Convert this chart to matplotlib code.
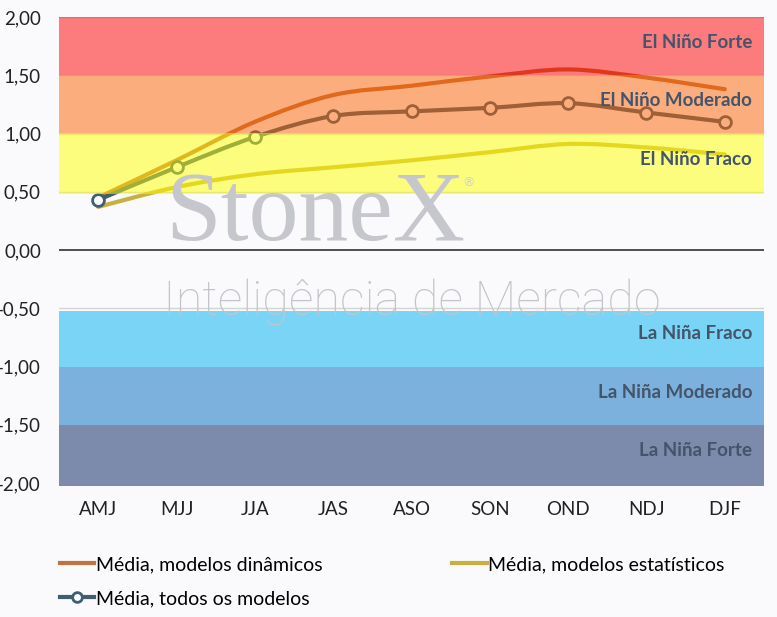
import matplotlib
matplotlib.use("Agg")
import matplotlib.pyplot as plt
from matplotlib.path import Path
from matplotlib.patches import PathPatch
from matplotlib.lines import Line2D
import numpy as np

categories = ["AMJ", "MJJ", "JJA", "JAS", "ASO", "SON", "OND", "NDJ", "DJF"]
dinamicos = [0.45, 0.77, 1.10, 1.33, 1.41, 1.49, 1.55, 1.48, 1.38]
estatisticos = [0.37, 0.54, 0.65, 0.71, 0.77, 0.84, 0.91, 0.88, 0.82]
todos = [0.43, 0.71, 0.97, 1.15, 1.19, 1.22, 1.26, 1.18, 1.10]
yticks = [2.0, 1.5, 1.0, 0.5, 0.0, -0.5, -1.0, -1.5, -2.0]
ytick_labels = ["2,00", "1,50", "1,00", "0,50", "0,00", "-0,50", "-1,00", "-1,50", "-2,00"]
bands = [(1.5, 2.0, "El Niño Forte"), (1.0, 1.5, "El Niño Moderado"), (0.48, 1.0, "El Niño Fraco"),
         (-1.0, -0.52, "La Niña Fraco"), (-1.5, -1.0, "La Niña Moderado"), (-2.03, -1.5, "La Niña Forte")]
band_colors = [(1.0, 0.0, 0.0, 0.5), (1.0, 0.384, 0.0, 0.5), (1.0, 1.0, 0.0, 0.5),
               "#7AD4F5", "#7BB1DC", "#7C8AAC"]

plt.rcParams['font.family'] = ['Lato', 'DejaVu Sans']
BG = "#FAFAFC"

fig = plt.figure(figsize=(7.77, 6.17), dpi=100, facecolor=BG)
ax = fig.add_axes([59/777, 1-483/617, 705/777, 466/617])
ax.set_facecolor(BG)
ax.set_xlim(-0.5, 8.5)
ax.set_ylim(-2.0, 2.0)
for s in ax.spines.values():
    s.set_visible(False)

# gridlines
for yv in yticks:
    if yv == 0:
        ax.axhline(0, color="#404040", lw=1.3, zorder=2)
    else:
        ax.axhline(yv, color="#D4D4D4", lw=1.0, zorder=1)

# watermark
fig.text(165/777, 1-240/617, "StoneX", family="Liberation Serif", fontsize=72,
         color="#C6C7CC", va="baseline", ha="left", zorder=0)
fig.text(462/777, 1-186/617, "®", family="DejaVu Sans", fontsize=9,
         color="#D0D1D5", va="baseline", ha="left")
fig.text(163/777, 1-316/617, "Inteligência de Mercado", family="Roboto", fontweight="light",
         fontsize=35, color="#C4C5CA", va="baseline", ha="left")

def smooth_path(xs, ys):
    xs = np.asarray(xs, float); ys = np.asarray(ys, float)
    n = len(xs)
    verts = [(xs[0], ys[0])]
    codes = [Path.MOVETO]
    t = 1/6
    for i in range(n-1):
        p0 = (xs[max(i-1, 0)], ys[max(i-1, 0)])
        p1 = (xs[i], ys[i]); p2 = (xs[i+1], ys[i+1])
        p3 = (xs[min(i+2, n-1)], ys[min(i+2, n-1)])
        c1 = (p1[0] + (p2[0]-p0[0])*t, p1[1] + (p2[1]-p0[1])*t)
        c2 = (p2[0] - (p3[0]-p1[0])*t, p2[1] - (p3[1]-p1[1])*t)
        verts += [c1, c2, p2]
        codes += [Path.CURVE4]*3
    return Path(verts, codes)

x = np.arange(len(categories))
c_dyn, c_stat, c_all = "#C2723C", "#C8B040", "#3F5F6F"
for vals, col, z in [(dinamicos, c_dyn, 3), (estatisticos, c_stat, 3), (todos, c_all, 4)]:
    ax.add_patch(PathPatch(smooth_path(x, vals), fill=False, edgecolor=col, lw=3.0,
                           capstyle="round", joinstyle="round", zorder=z))
ax.plot(x, todos, linestyle="none", marker="o", markersize=8.5, markerfacecolor=BG,
        markeredgecolor=c_all, markeredgewidth=2.0, zorder=5)

# bands on top (semi transparent)
for (lo, hi, lab), col in zip(bands, band_colors):
    ax.axhspan(lo, hi, color=col, lw=0, zorder=6, clip_on=False)
    ax.text(0.983, (round(lo*2)/2 + round(hi*2)/2)/2 + 0.03, lab, transform=ax.get_yaxis_transform(),
            ha="right", va="center", fontsize=13.5, fontweight="bold", color="#44546A", zorder=8)

ax.set_xticks(x)
ax.set_xticklabels(categories)
ax.set_yticks(yticks)
ax.set_yticklabels(ytick_labels)
ax.tick_params(axis="both", length=0, labelsize=13.5, colors="#222222")
ax.tick_params(axis="x", pad=13)
ax.tick_params(axis="y", pad=13)

handles = [Line2D([], [], color=c_dyn, lw=3.0),
           Line2D([], [], color=c_all, lw=3.0, marker="o", markersize=7,
                  markerfacecolor=BG, markeredgecolor=c_all, markeredgewidth=2.0),
           Line2D([], [], color=c_stat, lw=3.0)]
labels = ["Média, modelos dinâmicos", "Média, todos os modelos", "Média, modelos estatísticos"]
fig.legend(handles, labels, ncol=2, loc="upper left", bbox_to_anchor=(60/777, 1-556/617),
           frameon=False, fontsize=14, handlelength=1.75, handletextpad=0.08,
           columnspacing=6.7, labelspacing=0.88, borderaxespad=0, borderpad=0)

fig.savefig("out.png", dpi=100, facecolor=BG)
